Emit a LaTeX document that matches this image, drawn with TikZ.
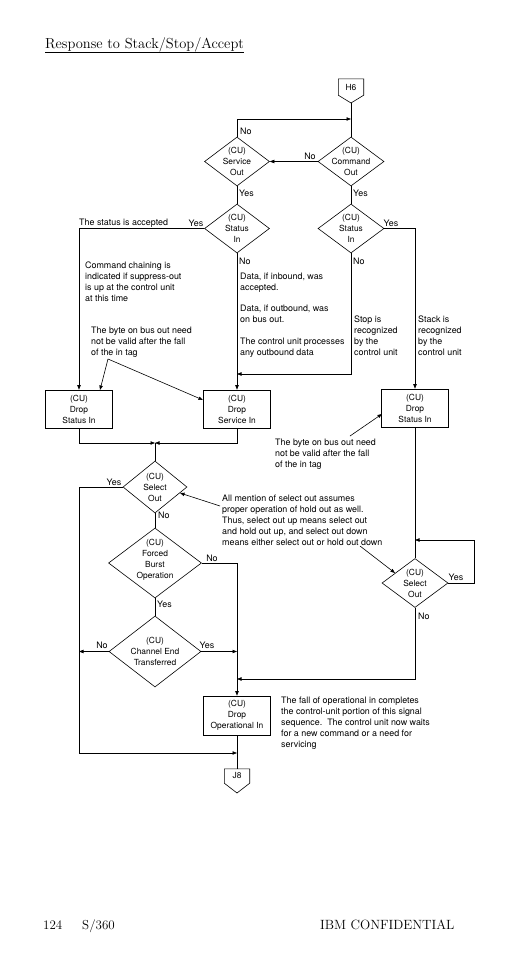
\documentclass[tikz,border=0pt]{standalone}
\usepackage{fontspec}
\setsansfont{TeX Gyre Heros}
\usetikzlibrary{arrows.meta,shapes.geometric}
\newcommand\flowfont{\sffamily\fontsize{8.4}{11}\selectfont}
\newcommand\notefont{\sffamily\fontsize{8.9}{11}\selectfont}
\begin{document}
\begin{tikzpicture}[x=1pt,y=-1pt,
  ln/.style={line width=0.6pt},
  arr/.style={ln,-{Triangle[length=4.5pt,width=3.4pt]}},
  dia/.style={draw,ln,shape=diamond,inner sep=0pt},
  dtext/.style={font=\flowfont,align=center,inner sep=0pt},
  proc/.style={draw,ln,rectangle,minimum width=67pt,minimum height=38pt,inner sep=0pt,align=center,font=\flowfont},
  conn/.style={inner sep=0pt,minimum width=25pt,font=\flowfont},
  note/.style={font=\notefont,align=left,inner sep=0pt,anchor=north west},
  yn/.style={font=\notefont,inner sep=0pt}]
\path[use as bounding box] (0,0) rectangle (526,972);
% title and footer
\node[font=\fontsize{14.5}{16}\selectfont,anchor=base west,inner sep=0pt] (title) at (45,48) {Response to Stack/Stop/Accept};
\draw[line width=0.9pt] ([yshift=-4.5pt]title.base west) -- ([yshift=-4.5pt]title.base east);
\node[font=\fontsize{13}{15}\selectfont,anchor=base west,inner sep=0pt] (pg) at (43,929) {124};
\node[font=\fontsize{13}{15}\selectfont,anchor=base west,inner sep=0pt] (sys) at (82,929) {S/360};
\node[font=\fontsize{13.4}{15}\selectfont,anchor=base west,inner sep=0pt] (conf) at (320,929) {IBM CONFIDENTIAL};
% connectors
\node[conn,minimum height=16pt] (h6) at (351,87) {H6};
\coordinate (h6tip) at (351,103);
\draw[ln] (h6.south west) -- (h6.north west) -- (h6.north east) -- (h6.south east) -- (h6tip) -- cycle;
\node[conn,minimum height=14pt] (j8) at (237,776) {J8};
\coordinate (j8tip) at (237,793);
\draw[ln] (j8.south west) -- (j8.north west) -- (j8.north east) -- (j8.south east) -- (j8tip) -- cycle;
% decisions
\node[dia,minimum width=65pt,minimum height=49pt,label={[dtext]center:{(CU)\\Service\\Out}}] (svc) at (237,161.5) {};
\node[dia,minimum width=66pt,minimum height=49pt,label={[dtext]center:{(CU)\\Command\\Out}}] (cmd) at (351,161.5) {};
\node[dia,minimum width=65pt,minimum height=49pt,label={[dtext]center:{(CU)\\Status\\In}}] (stL) at (237,228.5) {};
\node[dia,minimum width=66pt,minimum height=49pt,label={[dtext]center:{(CU)\\Status\\In}}] (stR) at (351,228.5) {};
\node[dia,minimum width=64pt,minimum height=52pt,label={[dtext]center:{(CU)\\Select\\Out}}] (soL) at (155,487) {};
\node[dia,minimum width=93pt,minimum height=70pt,label={[dtext,yshift=3pt]center:{(CU)\\Forced\\Burst\\Operation}}] (fb) at (155,563) {};
\node[dia,minimum width=92pt,minimum height=71pt,label={[dtext]center:{(CU)\\Channel End\\Transferred}}] (ce) at (155,651.5) {};
\node[dia,minimum width=66pt,minimum height=49pt,label={[dtext]center:{(CU)\\Select\\Out}}] (soR) at (415,583) {};
% processes
\node[proc] (dsL) at (79,409) {(CU)\\Drop\\Status In};
\node[proc] (dsv) at (237,409) {(CU)\\Drop\\Service In};
\node[proc] (dsR) at (415,408) {(CU)\\Drop\\Status In};
\node[proc,minimum height=39pt] (dop) at (237,715.5) {(CU)\\Drop\\Operational In};
% junctions
\coordinate (j1) at (351,119);
\coordinate (j2) at (237,374);
\coordinate (j3) at (155,443);
\coordinate (c1) at (79,753);
\coordinate (j4) at (237,753);
\coordinate (j5) at (79,651.5);
\coordinate (j6) at (237,651.5);
\coordinate (c2) at (474,540);
\coordinate (j7) at (415,540);
\coordinate (j9) at (237,679);
% flow lines
\draw[ln] (h6tip) -- (cmd.north);
\draw[arr] (svc.north) |- (j1);
\draw[arr] (cmd.west) -- (svc.east);
\draw[ln] (svc.south) -- (stL.north);
\draw[ln] (cmd.south) -- (stR.north);
\draw[arr] (stL.west) -| (dsL.north);
\draw[arr] (stL.south) -- (dsv.north);
\draw[arr] (stR.south) |- (j2);
\draw[arr] (stR.east) -| (dsR.north);
\draw[arr] (dsL.south) |- (j3);
\draw[arr] (dsv.south) |- (j3);
\draw[ln] (j3) -- (soL.north);
\draw[arr] (soL.west) -| (c1) -- (j4);
\draw[ln] (soL.south) -- (fb.north);
\draw[arr] (fb.east) -| (dop.north);
\draw[ln] (fb.south) -- (ce.north);
\draw[arr] (ce.west) -- (j5);
\draw[arr] (ce.east) -- (j6);
\draw[ln] (dsR.south) -- (soR.north);
\draw[arr] (soR.east) -| (c2) -- (j7);
\draw[arr] (soR.south) |- (j9);
\draw[ln] (dop.south) -- (j8.north);
% yes / no labels
\node[yn,anchor=west] (l1) at (240,131) {No};
\node[yn] (l2) at (310,156) {No};
\node[yn,anchor=west] (l3) at (239,193) {Yes};
\node[yn,anchor=west] (l4) at (353,193) {Yes};
\node[yn] (l5) at (196,223) {Yes};
\node[yn,anchor=west] (acc) at (79,223) {The status is accepted};
\node[yn] (l6) at (391,223) {Yes};
\node[yn,anchor=west] (l7) at (239,261) {No};
\node[yn,anchor=west] (l8) at (353,261) {No};
\node[yn] (l9) at (114,482) {Yes};
\node[yn,anchor=west] (l10) at (158,515) {No};
\node[yn] (l11) at (212,558) {No};
\node[yn,anchor=west] (l12) at (157,604) {Yes};
\node[yn] (l13) at (102,645) {No};
\node[yn] (l14) at (207,645) {Yes};
\node[yn] (l15) at (456,577) {Yes};
\node[yn,anchor=west] (l16) at (418,616) {No};
% notes
\node[note] (chain) at (85,261.5) {Command chaining is\\indicated if suppress-out\\is up at the control unit\\at this time};
\node[note] (byte1) at (91,326.5) {The byte on bus out need\\not be valid after the fall\\of the in tag};
\node[note] (data1) at (240,272.5) {Data, if inbound, was\\accepted.};
\node[note] (data2) at (240,304.5) {Data, if outbound, was\\on bus out.};
\node[note] (data3) at (240,337.5) {The control unit processes\\any outbound data};
\node[note] (stop) at (354,315.5) {Stop is\\recognized\\by the\\control unit};
\node[note] (stack) at (418,315.5) {Stack is\\recognized\\by the\\control unit};
\node[note] (byte2) at (275,438.5) {The byte on bus out need\\not be valid after the fall\\of the in tag};
\node[note] (mention) at (222,494.5) {All mention of select out assumes\\proper operation of hold out as well.\\Thus, select out up means select out\\and hold out up, and select out down\\means either select out or hold out down};
\node[note] (fall) at (281,696.5) {The fall of operational in completes\\the control-unit portion of this signal\\sequence.\ \ The control unit now waits\\for a new command or a need for\\servicing};
% note pointers
\coordinate (n1) at (108,359);
\coordinate (t1) at (100,390);
\coordinate (t2) at (203,400);
\coordinate (n2) at (350,436);
\coordinate (t3) at (382,414);
\coordinate (n3) at (220,506);
\coordinate (t4) at (180,493);
\coordinate (n4) at (360,546);
\coordinate (t5) at (395,573);
\draw[arr] (n1) -- (t1);
\draw[arr] (n1) -- (t2);
\draw[arr] (n2) -- (t3);
\draw[arr] (n3) -- (t4);
\draw[arr] (n4) -- (t5);
\end{tikzpicture}
\end{document}
